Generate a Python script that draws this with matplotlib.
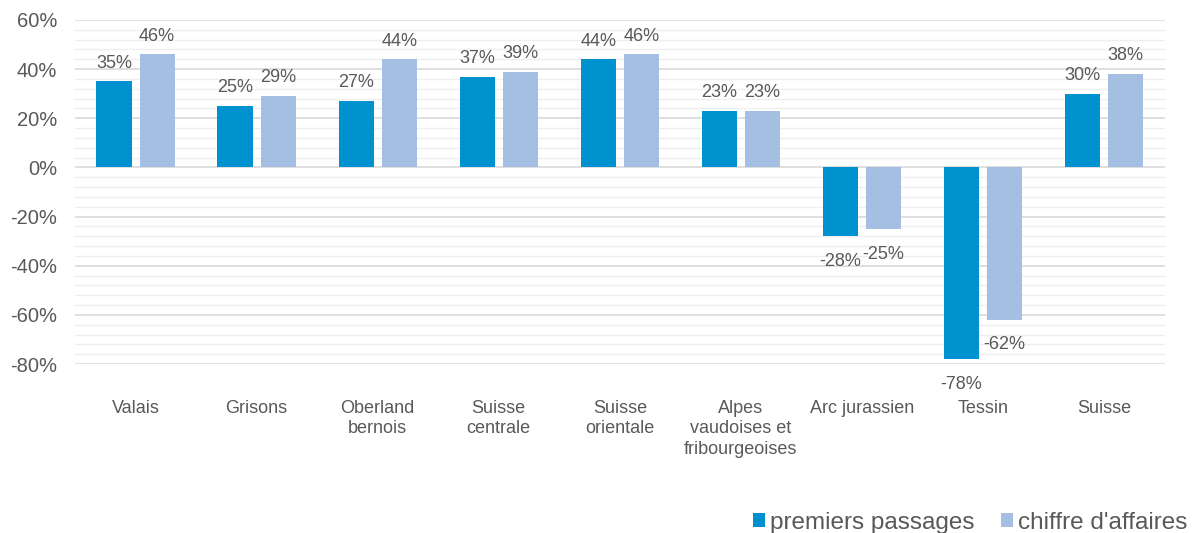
import numpy as np
import matplotlib.pyplot as plt
from matplotlib.ticker import MultipleLocator, FuncFormatter

plt.rcParams['font.family'] = ['Liberation Sans', 'DejaVu Sans']

regions = ['Valais', 'Grisons', 'Oberland\nbernois', 'Suisse\ncentrale', 'Suisse\norientale',
           'Alpes\nvaudoises et\nfribourgeoises', 'Arc jurassien', 'Tessin', 'Suisse']
premiers = [35, 25, 27, 37, 44, 23, -28, -78, 30]
chiffre = [46, 29, 44, 39, 46, 23, -25, -62, 38]
series_names = ['premiers passages', "chiffre d'affaires"]

c_dark = '#0091CF'
c_light = '#A4BFE2'
txt = '#595959'

fig = plt.figure(figsize=(12, 5.33), dpi=100)
ax = fig.add_axes([0.0625, 0.317, 0.908, 0.6455])

x = np.arange(len(regions))
w = 0.29
b1 = ax.bar(x - 0.178, premiers, w, color=c_dark, label=series_names[0], zorder=3)
b2 = ax.bar(x + 0.178, chiffre, w, color=c_light, label=series_names[1], zorder=3)

for bars, vals in [(b1, premiers), (b2, chiffre)]:
    for r, v in zip(bars, vals):
        cx = r.get_x() + r.get_width() / 2
        if v >= 0:
            ax.annotate(f'{v}%', (cx, v), xytext=(0, 7), textcoords='offset points',
                        ha='center', va='bottom', fontsize=13, color=txt)
        else:
            ax.annotate(f'{v}%', (cx, v), xytext=(0, -12), textcoords='offset points',
                        ha='center', va='top', fontsize=13, color=txt)

ax.set_xlim(-0.5, len(regions) - 0.5)
ax.set_ylim(-80, 60)
ax.yaxis.set_major_locator(MultipleLocator(20))
ax.yaxis.set_minor_locator(MultipleLocator(4))
ax.yaxis.set_major_formatter(FuncFormatter(lambda v, p: f'{v:.0f}%'))
ax.grid(axis='y', which='major', color='#D9D9D9', linewidth=1.2, zorder=0)
ax.grid(axis='y', which='minor', color='#EFEFEF', linewidth=1.0, zorder=0)
for s in ax.spines.values():
    s.set_visible(False)
ax.tick_params(axis='both', which='both', length=0)
ax.tick_params(axis='y', labelsize=14.5, colors=txt, pad=13)
ax.set_xticks(x)
ax.set_xticklabels(regions, fontsize=13, color=txt, linespacing=1.25)
ax.tick_params(axis='x', pad=26)

fig.legend(handles=[b1, b2], labels=series_names, loc='lower right', bbox_to_anchor=(1.008, -0.042),
           ncol=2, frameon=False, fontsize=17.5, labelcolor=txt, handlelength=0.5,
           handleheight=0.5, handletextpad=0.2, columnspacing=1.1)

fig.savefig('out.png', dpi=100)
